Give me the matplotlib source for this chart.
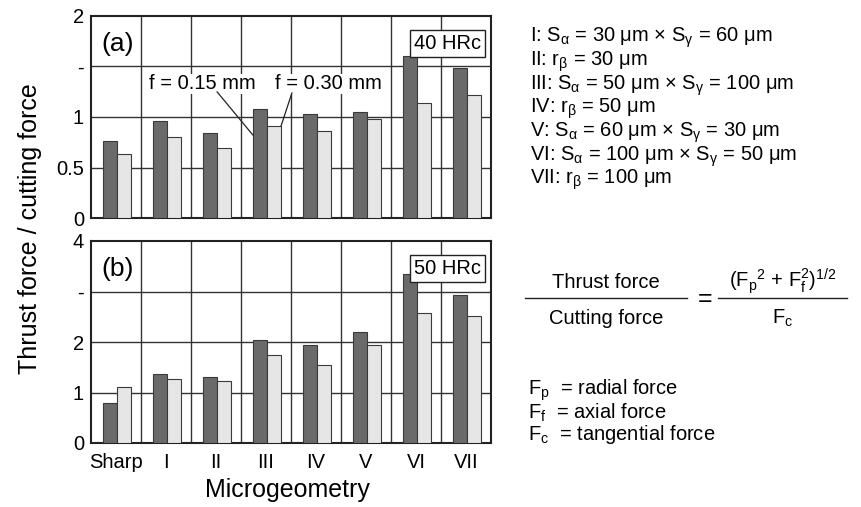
#!/usr/bin/env python3

import numpy as np
import matplotlib
matplotlib.use('Agg')
import matplotlib.pyplot as plt
from matplotlib.lines import Line2D

plt.rcParams['font.family'] = ['Liberation Sans', 'DejaVu Sans']
plt.rcParams['mathtext.fontset'] = 'custom'
plt.rcParams['mathtext.rm'] = 'Liberation Sans'
plt.rcParams['mathtext.it'] = 'Liberation Sans:italic'
plt.rcParams['mathtext.bf'] = 'Liberation Sans:bold'

categories = ['Sharp', 'I', 'II', 'III', 'IV', 'V', 'VI', 'VII']

# (a) 40 HRc
hrc40_f015 = [0.76, 0.96, 0.845, 1.075, 1.03, 1.05, 1.60, 1.485]
hrc40_f030 = [0.63, 0.80, 0.69, 0.91, 0.86, 0.98, 1.14, 1.22]

# (b) 50 HRc
hrc50_f015 = [0.80, 1.37, 1.31, 2.03, 1.95, 2.20, 3.34, 2.93]
hrc50_f030 = [1.10, 1.27, 1.23, 1.74, 1.55, 1.95, 2.58, 2.51]

ticks_a = [0, 0.5, 1, 1.5, 2]
ticklabels_a = ['0', '0.5', '1', '-', '2']
ticks_b = [0, 1, 2, 3, 4]
ticklabels_b = ['0', '1', '2', '-', '4']

legend_lines = [
  r'I: S$_\mathrm{α}$ = 30 μm × S$_\mathrm{γ}$ = 60 μm',
  r'II: r$_\mathrm{β}$ = 30 μm',
  r'III: S$_\mathrm{α}$ = 50 μm × S$_\mathrm{γ}$ = 100 μm',
  r'IV: r$_\mathrm{β}$ = 50 μm',
  r'V: S$_\mathrm{α}$ = 60 μm × S$_\mathrm{γ}$ = 30 μm',
  r'VI: S$_\mathrm{α}$ = 100 μm × S$_\mathrm{γ}$ = 50 μm',
  r'VII: r$_\mathrm{β}$ = 100 μm',
]
force_lines = [
  r'F$_\mathrm{p}$  = radial force',
  r'F$_\mathrm{f}$  = axial force',
  r'F$_\mathrm{c}$  = tangential force',
]

W, H = 861, 507
fig = plt.figure(figsize=(W / 100, H / 100), dpi=100)

def px(x0, y0, x1, y1):
  return [x0 / W, 1 - y1 / H, (x1 - x0) / W, (y1 - y0) / H]

ax_a = fig.add_axes(px(91, 16, 491, 218))
ax_b = fig.add_axes(px(91, 241, 491, 443))

dark = '#6a6a6a'
light = '#e6e6e6'
edge = '#3a3a3a'
fs = 14.5
x = np.arange(len(categories))
bw = 0.28

def draw_panel(ax, v1, v2, ymax, ticks, ticklabels, grid_y, tag, hrc):
  ax.bar(x - 0.12, v1, width=bw, color=dark, edgecolor=edge, linewidth=0.8, zorder=3)
  ax.bar(x + 0.16, v2, width=bw, color=light, edgecolor=edge, linewidth=0.8, zorder=3)
  ax.set_xlim(-0.5, len(categories) - 0.5)
  ax.set_ylim(0, ymax)
  for gy in grid_y:
    ax.axhline(gy, color='#333333', linewidth=1.0, zorder=1)
  for gx in x[:-1] + 0.5:
    ax.axvline(gx, color='#333333', linewidth=1.0, zorder=1)
  ax.set_yticks(ticks)
  ax.set_yticklabels(ticklabels, fontsize=fs)
  ax.tick_params(axis='both', length=0, pad=5)
  for s in ax.spines.values():
    s.set_linewidth(1.5)
    s.set_color('#222222')
  ax.text(0.025, 0.86, tag, transform=ax.transAxes, fontsize=19, va='center', ha='left')
  ax.text(0.975, 0.865, hrc, transform=ax.transAxes, fontsize=fs, va='center', ha='right',
          bbox=dict(boxstyle='square,pad=0.2', facecolor='white', edgecolor='#222222', linewidth=1.0),
          zorder=5)

draw_panel(ax_a, hrc40_f015, hrc40_f030, 2, ticks_a, ticklabels_a, [0.5, 1.0, 1.5], '(a)', '40 HRc')
draw_panel(ax_b, hrc50_f015, hrc50_f030, 4, ticks_b, ticklabels_b, [1, 2, 3], '(b)', '50 HRc')

ax_a.set_xticks([])
ax_b.set_xticks(x)
ax_b.set_xticklabels(categories, fontsize=fs)
ax_b.tick_params(axis='x', pad=7)

# feed labels in panel (a)
ax_a.text(1.72, 1.33, 'f = 0.15 mm', fontsize=fs, ha='center', va='center', zorder=6,
          bbox=dict(facecolor='white', edgecolor='none', pad=0.5))
ax_a.text(4.25, 1.33, 'f = 0.30 mm', fontsize=fs, ha='center', va='center', zorder=6,
          bbox=dict(facecolor='white', edgecolor='none', pad=0.5))
ax_a.annotate('', xy=(3 - 0.12 - bw / 2, 0.82), xytext=(2.02, 1.25),
              arrowprops=dict(arrowstyle='-', color='#222222', linewidth=0.9, shrinkA=0, shrinkB=0), zorder=6)
ax_a.annotate('', xy=(3 + 0.16 + bw / 2, hrc40_f030[3]), xytext=(3.52, 1.24),
              arrowprops=dict(arrowstyle='-', color='#222222', linewidth=0.9, shrinkA=0, shrinkB=0), zorder=6)

fig.text(30 / W, 1 - 229 / H, 'Thrust force / cutting force', rotation=90, fontsize=18,
         ha='center', va='center')
fig.text(287 / W, 1 - 490 / H, 'Microgeometry', fontsize=18, ha='center', va='center')

# microgeometry list
for i, s in enumerate(legend_lines):
  fig.text(530 / W, 1 - (38 + i * 23.7) / H, s, fontsize=fs, ha='left', va='center')

# ratio formula
fig.text(606 / W, 1 - 282 / H, 'Thrust force', fontsize=fs, ha='center', va='center')
fig.text(606 / W, 1 - 318 / H, 'Cutting force', fontsize=fs, ha='center', va='center')
fig.add_artist(Line2D([525 / W, 687 / W], [1 - 298 / H, 1 - 298 / H], color='#222222', linewidth=1.0))
fig.text(705 / W, 1 - 299 / H, '=', fontsize=18, ha='center', va='center')
fig.add_artist(Line2D([718 / W, 847 / W], [1 - 298 / H, 1 - 298 / H], color='#222222', linewidth=1.0))
fig.text(783 / W, 1 - 281 / H, r'(F$_\mathrm{p}{}^\mathrm{2}$ + F$_\mathrm{f}^\mathrm{2}$)$^\mathrm{1/2}$',
         fontsize=fs, ha='center', va='center')
fig.text(783 / W, 1 - 318 / H, r'F$_\mathrm{c}$', fontsize=fs, ha='center', va='center')

for i, s in enumerate(force_lines):
  fig.text(528 / W, 1 - (390 + i * 22.5) / H, s, fontsize=fs, ha='left', va='center')

fig.savefig('out.png', dpi=100)
